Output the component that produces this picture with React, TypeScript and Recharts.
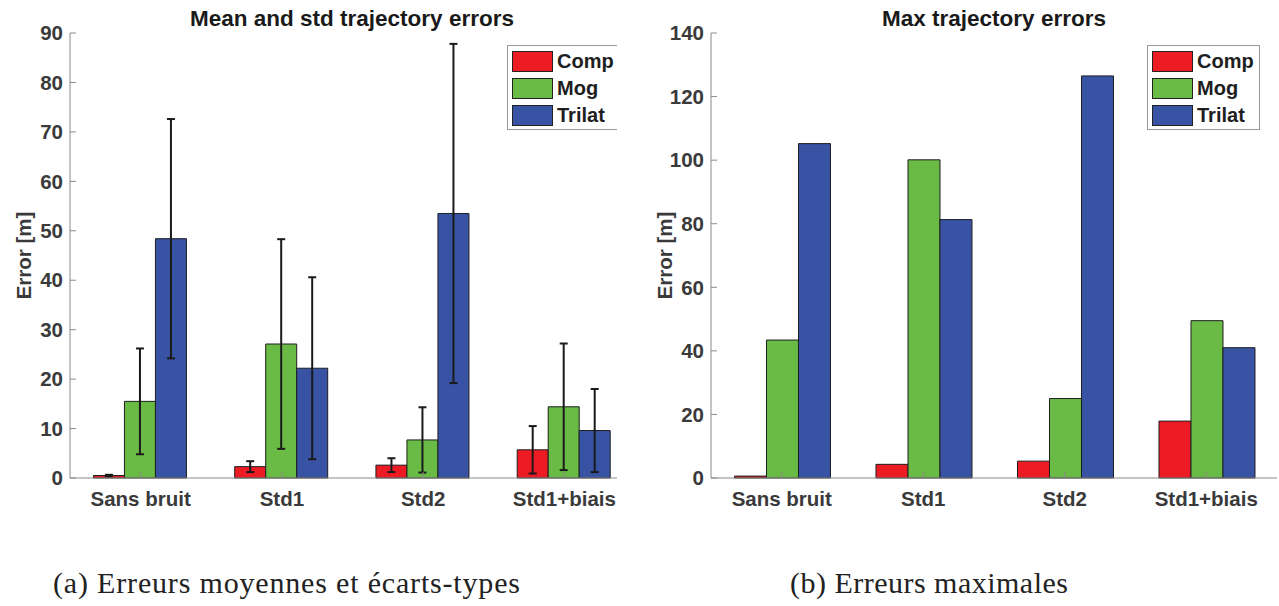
import React from 'react';
import { BarChart, Bar, XAxis, YAxis, ErrorBar } from 'recharts';

const categories = ['Sans bruit', 'Std1', 'Std2', 'Std1+biais'];

// mean errors and their std (left panel)
const compMean = [0.5, 2.3, 2.6, 5.7];
const compStd = [0.15, 1.1, 1.4, 4.8];
const mogMean = [15.5, 27.1, 7.7, 14.4];
const mogStd = [10.7, 21.2, 6.6, 12.8];
const trilatMean = [48.4, 22.2, 53.5, 9.6];
const trilatStd = [24.2, 18.4, 34.3, 8.4];

// max errors (right panel)
const compMax = [0.6, 4.3, 5.3, 17.9];
const mogMax = [43.4, 100.1, 25.0, 49.5];
const trilatMax = [105.2, 81.3, 126.5, 41.0];

const leftTicks = [0, 10, 20, 30, 40, 50, 60, 70, 80, 90];
const rightTicks = [0, 20, 40, 60, 80, 100, 120, 140];

const series = [
  { name: 'Comp', color: '#ED1C24' },
  { name: 'Mog', color: '#6ABB45' },
  { name: 'Trilat', color: '#3953A4' },
];

const meanData = categories.map((c, i) => ({
  name: c,
  comp: compMean[i], compStd: compStd[i],
  mog: mogMean[i], mogStd: mogStd[i],
  trilat: trilatMean[i], trilatStd: trilatStd[i],
}));

const maxData = categories.map((c, i) => ({
  name: c, comp: compMax[i], mog: mogMax[i], trilat: trilatMax[i],
}));

const FONT = '"Liberation Sans", Arial, sans-serif';
const tickStyle = { fill: '#3a3a3a', fontSize: 20.5, fontWeight: 'bold', fontFamily: FONT };

// legend drawn as a plain box so the chart keeps its full plot height
const LegendBox = ({ left, top }: { left: number; top: number }) => (
  <div style={{ position: 'absolute', left, top, width: 113, height: 85, border: '1px solid #9a9a9a', background: '#fff', boxSizing: 'border-box' }}>
    {series.map((s, i) => (
      <div key={s.name} style={{ position: 'absolute', left: 4, top: 5 + i * 27, display: 'flex', alignItems: 'center' }}>
        <div style={{ width: 39, height: 19, background: s.color, border: '1px solid #222' }} />
        <span style={{ marginLeft: 4, fontFamily: FONT, fontWeight: 'bold', fontSize: 20, color: '#1e1e1e', lineHeight: '21px' }}>{s.name}</span>
      </div>
    ))}
  </div>
);

const yLabel = (props: any) => {
  const { x, y, width, height } = props.viewBox;
  const cx = x + width - 47;
  const cy = y + height / 2;
  return (
    <text x={cx} y={cy} transform={`rotate(-90 ${cx} ${cy})`} textAnchor="middle" dominantBaseline="central"
      style={{ fill: '#3a3a3a', fontSize: 20.5, fontWeight: 'bold', fontFamily: FONT }}>
      Error [m]
    </text>
  );
};

const Title = ({ text, cx }: { text: string; cx: number }) => (
  <div style={{ position: 'absolute', left: cx - 200, width: 400, top: 6, textAlign: 'center', fontFamily: FONT, fontWeight: 'bold', fontSize: 22.5, color: '#1a1a1a', whiteSpace: 'nowrap' }}>
    {text}
  </div>
);

const Caption = ({ text, left, width }: { text: string; left: number; width: number }) => (
  <svg style={{ position: 'absolute', left, top: 560 }} width={width + 10} height={44}>
    <text x={0} y={33} textLength={width} lengthAdjust="spacing"
      style={{ fontFamily: '"Liberation Serif", "Times New Roman", serif', fontSize: 30, fill: '#222' }}>
      {text}
    </text>
  </svg>
);

const axisLine = { stroke: '#8a8a8a', strokeWidth: 1 };

export default function App() {
  return (
    <div style={{ position: 'fixed', left: 0, top: 0, width: 1279, height: 606, background: '#fff', overflow: 'hidden' }}>
      <Title text="Mean and std trajectory errors" cx={352} />
      <Title text="Max trajectory errors" cx={994} />

      <div style={{ position: 'absolute', left: 0, top: 0, width: 617, height: 530, overflow: 'hidden' }}>
        <BarChart width={660} height={530} data={meanData} margin={{ top: 33, right: 25, left: 0, bottom: 12 }}
          barCategoryGap="16.6%" barGap={0}>
          <XAxis dataKey="name" interval={0} height={40} tickSize={-6} tickMargin={19} tick={tickStyle}
            axisLine={axisLine} tickLine={axisLine} />
          <YAxis width={70} domain={[0, 90]} ticks={leftTicks} interval={0} tickSize={-6} tickMargin={13}
            tick={tickStyle} axisLine={axisLine} tickLine={axisLine} label={yLabel} />
          <Bar dataKey="comp" name="Comp" fill={series[0].color} stroke="#1e1e1e" strokeWidth={1} isAnimationActive={false}>
            <ErrorBar dataKey="compStd" width={4} stroke="#1a1a1a" strokeWidth={2} />
          </Bar>
          <Bar dataKey="mog" name="Mog" fill={series[1].color} stroke="#1e1e1e" strokeWidth={1} isAnimationActive={false}>
            <ErrorBar dataKey="mogStd" width={4} stroke="#1a1a1a" strokeWidth={2} />
          </Bar>
          <Bar dataKey="trilat" name="Trilat" fill={series[2].color} stroke="#1e1e1e" strokeWidth={1} isAnimationActive={false}>
            <ErrorBar dataKey="trilatStd" width={4} stroke="#1a1a1a" strokeWidth={2} />
          </Bar>
        </BarChart>
        <LegendBox left={507} top={45} />
      </div>

      <div style={{ position: 'absolute', left: 640, top: 0, width: 639, height: 530 }}>
        <BarChart width={639} height={530} data={maxData} margin={{ top: 33, right: 2, left: 0, bottom: 12 }}
          barCategoryGap="16.6%" barGap={0}>
          <XAxis dataKey="name" interval={0} height={40} tickSize={-6} tickMargin={19} tick={tickStyle}
            axisLine={axisLine} tickLine={axisLine} />
          <YAxis width={71} domain={[0, 140]} ticks={rightTicks} interval={0} tickSize={-6} tickMargin={13}
            tick={tickStyle} axisLine={axisLine} tickLine={axisLine} label={yLabel} />
          <Bar dataKey="comp" name="Comp" fill={series[0].color} stroke="#1e1e1e" strokeWidth={1} isAnimationActive={false} />
          <Bar dataKey="mog" name="Mog" fill={series[1].color} stroke="#1e1e1e" strokeWidth={1} isAnimationActive={false} />
          <Bar dataKey="trilat" name="Trilat" fill={series[2].color} stroke="#1e1e1e" strokeWidth={1} isAnimationActive={false} />
        </BarChart>
        <LegendBox left={507} top={45} />
      </div>

      <Caption text="(a) Erreurs moyennes et écarts-types" left={53} width={467} />
      <Caption text="(b) Erreurs maximales" left={790} width={278} />
    </div>
  );
}
